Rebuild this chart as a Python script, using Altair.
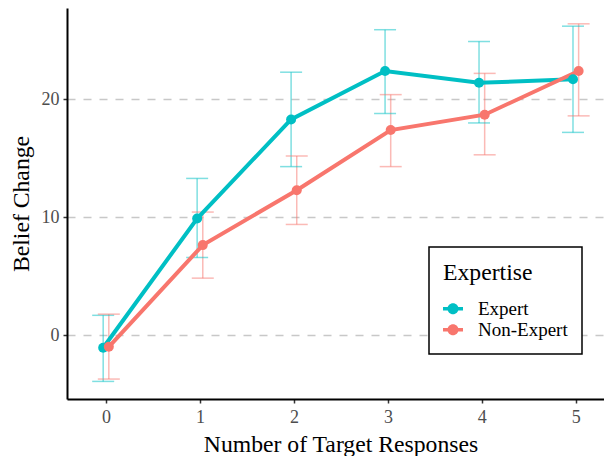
import altair as alt
import pandas as pd

# ---- data ----
responses = [0, 1, 2, 3, 4, 5]
groups = ["Expert", "Non-Expert"]
expert_mean = [-1.05, 9.9, 18.3, 22.4, 21.4, 21.7]
expert_lo = [-3.9, 6.6, 14.3, 18.8, 18.0, 17.2]
expert_hi = [1.7, 13.3, 22.3, 25.9, 24.9, 26.2]
nonexpert_mean = [-0.97, 7.65, 12.3, 17.4, 18.7, 22.4]
nonexpert_lo = [-3.7, 4.85, 9.4, 14.3, 15.3, 18.6]
nonexpert_hi = [1.8, 10.45, 15.2, 20.4, 22.2, 26.4]
colors = ["#00BFC4", "#F8766D"]

rows = []
for g, m, lo, hi in [("Expert", expert_mean, expert_lo, expert_hi),
                     ("Non-Expert", nonexpert_mean, nonexpert_lo, nonexpert_hi)]:
    for n, a, b, c in zip(responses, m, lo, hi):
        rows.append({"n": n, "Expertise": g, "mean": a, "lo": b, "hi": c})
df = pd.DataFrame(rows)

FONT = "Liberation Serif"
DODGE = 0.03
CAP = 0.117

xscale = alt.Scale(domain=[-0.415, 5.30], nice=False, zero=False)
yscale = alt.Scale(domain=[-5.39, 27.74], nice=False, zero=False)
cscale = alt.Scale(domain=groups, range=colors)

legend_symbol = ("M-1,-0.17 L1,-0.17 L1,0.17 L-1,0.17 Z "
                 "M0.55,0 A0.55,0.55 0 1,1 -0.55,0 A0.55,0.55 0 1,1 0.55,0 Z")
legend = alt.Legend(title="Expertise", symbolType=legend_symbol)

base = alt.Chart(df).transform_calculate(
    xd=f"datum.n + (datum.Expertise == 'Expert' ? {-DODGE} : {DODGE})"
).transform_calculate(
    xl=f"datum.xd - {CAP}", xr=f"datum.xd + {CAP}"
)

xaxis = alt.X("xd:Q", scale=xscale, title="Number of Target Responses",
              axis=alt.Axis(values=responses, format="d", grid=False,
                            titleX=273.5, titleY=52, titleBaseline="alphabetic"))
yaxis = alt.Y("mean:Q", scale=yscale, title="Belief Change",
              axis=alt.Axis(values=[0, 10, 20], grid=True,
                            titleX=-39, titleBaseline="alphabetic"))

color = alt.Color("Expertise:N", scale=cscale, legend=legend)

err = base.mark_rule(strokeWidth=1.5, opacity=0.5).encode(
    x=xaxis, y=alt.Y("lo:Q", scale=yscale), y2="hi:Q", color=color
)
cap_lo = base.mark_rule(strokeWidth=1.5, opacity=0.5).encode(
    x=alt.X("xl:Q", scale=xscale), x2="xr:Q", y=alt.Y("lo:Q", scale=yscale),
    color=color
)
cap_hi = base.mark_rule(strokeWidth=1.5, opacity=0.5).encode(
    x=alt.X("xl:Q", scale=xscale), x2="xr:Q", y=alt.Y("hi:Q", scale=yscale),
    color=color
)
lines = base.mark_line(strokeWidth=4).encode(
    x=xaxis, y=yaxis, color=color, detail="Expertise:N"
)
points = base.mark_circle(size=100, opacity=1).encode(
    x=xaxis, y=yaxis, color=color
)

chart = alt.layer(err, cap_lo, cap_hi, lines, points).properties(
    width=537, height=391,
    autosize=alt.AutoSizeParams(type="none"),
    padding={"left": 59, "top": 0, "right": 0, "bottom": 57},
    background="white",
).configure_view(stroke=None).configure_axis(
    domainColor="black", domainWidth=2,
    tickColor="#333333", tickSize=4, tickWidth=1.5,
    labelFont=FONT, labelFontSize=18, labelColor="#4D4D4D",
    titleFont=FONT, titleFontSize=23.7, titleFontWeight="normal", titleColor="black",
    gridColor="#C8C8C8", gridDash=[8, 8], gridWidth=1.5,
).configure_axisX(labelPadding=5).configure_axisY(labelPadding=4).configure_legend(
    orient="none", legendX=362, legendY=239,
    strokeColor="black", strokeWidth=1.5, fillColor="white", padding=14,
    titleFont=FONT, titleFontSize=23.7, titleFontWeight="normal", titleColor="black",
    titlePadding=14,
    labelFont=FONT, labelFontSize=19, labelColor="black", labelOffset=15,
    symbolSize=400, symbolStrokeWidth=0, symbolOpacity=1, rowPadding=1,
)

chart.save("out.html", embed_options={"renderer": "svg", "actions": False})
